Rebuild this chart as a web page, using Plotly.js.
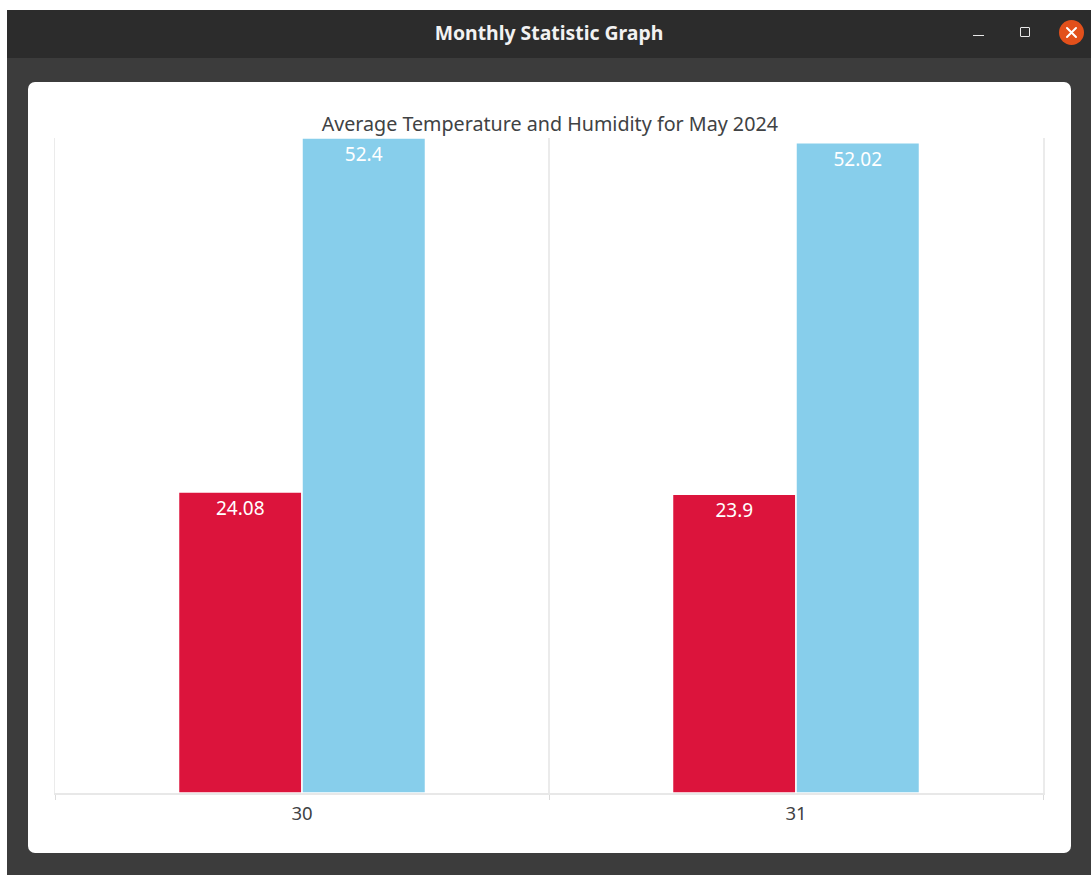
<!DOCTYPE html>
<html>
<head>
<meta charset="utf-8">
<title>Monthly Statistic Graph</title>
<script src="https://cdn.plot.ly/plotly-3.0.1.min.js"></script>
<style>
html,body{margin:0;padding:0;background:#fff;width:1091px;height:875px;overflow:hidden;font-family:"Noto Sans",sans-serif}
#win{position:absolute;left:7px;top:10px;width:1084px;height:865px;background:#3c3c3c}
#bar{position:absolute;left:0;top:0;width:100%;height:48px;background:#2c2c2c;color:#f2f2f2;font-weight:700;font-size:19.4px;line-height:46px;text-align:center}
#bar span{position:absolute;left:0;width:1084px;text-align:center}
#min{position:absolute;left:966px;top:24.5px;width:11px;height:1.5px;background:#e8e8e8}
#max{position:absolute;left:1013px;top:17px;width:8px;height:8px;border:1.5px solid #e8e8e8;border-radius:1px}
#close{position:absolute;left:1052px;top:10px;width:25px;height:25px;border-radius:50%;background:#e2501b}
#close svg{position:absolute;left:0;top:0}
#card{position:absolute;left:28px;top:82px;width:1043px;height:771px;background:#fff;border-radius:7px}
#chart{position:absolute;left:0;top:0;width:1091px;height:875px}
</style>
</head>
<body>
<div id="win">
  <div id="bar"><span>Monthly Statistic Graph</span>
    <div id="min"></div><div id="max"></div>
    <div id="close"><svg width="25" height="25"><path d="M8 8L17 17M17 8L8 17" stroke="#fff" stroke-width="2" stroke-linecap="round"/></svg></div>
  </div>
</div>
<div id="card"></div>
<div id="chart"></div>
<script>
const days = ['30', '31'];
const temperature = [24.08, 23.9];
const humidity = [52.4, 52.02];
const chartTitle = 'Average Temperature and Humidity for May 2024';
const labelFont = {family: '"Noto Sans", sans-serif', size: 19, color: '#ffffff'};

function barTrace(name, values, color) {
  return {
    type: 'bar', name: name, x: days, y: values,
    text: values.map(String), textposition: 'inside', insidetextanchor: 'end',
    textangle: 0, constraintext: 'none', cliponaxis: false,
    textfont: labelFont, insidetextfont: labelFont,
    marker: {color: color, line: {color: '#ffffff', width: 1.5}}
  };
}

Plotly.newPlot('chart', [
  barTrace('Temperature', temperature, '#dc143c'),
  barTrace('Humidity', humidity, '#87ceeb')
], {
  width: 1091, height: 875,
  paper_bgcolor: 'rgba(0,0,0,0)', plot_bgcolor: 'rgba(0,0,0,0)',
  showlegend: false,
  barmode: 'group', bargap: 0.5, bargroupgap: 0,
  margin: {l: 55.3, r: 48, t: 138, b: 82, pad: 0},
  title: {text: chartTitle, x: 0.5008, xanchor: 'center', xref: 'paper',
          y: 0.8585, yanchor: 'middle',
          font: {family: '"Noto Sans", sans-serif', size: 19.7, color: '#404244'}},
  xaxis: {type: 'category', tickson: 'boundaries', ticks: 'outside', ticklen: 5, tickwidth: 1,
          tickcolor: '#dcdcdc', showgrid: true, gridcolor: '#ebebeb', gridwidth: 1.5,
          showline: true, linecolor: '#e8e8e8', linewidth: 2, zeroline: false,
          ticklabelstandoff: 3,
          tickfont: {family: '"Noto Sans", sans-serif', size: 18.5, color: '#404244'}},
  yaxis: {range: [0, 52.4], showgrid: false, zeroline: false, fixedrange: true,
          showticklabels: false, ticks: '', showline: true, mirror: true,
          linecolor: '#ebebeb', linewidth: 1.5},
  font: {family: '"Noto Sans", sans-serif'}
}, {displayModeBar: false, staticPlot: true});
</script>
</body>
</html>
